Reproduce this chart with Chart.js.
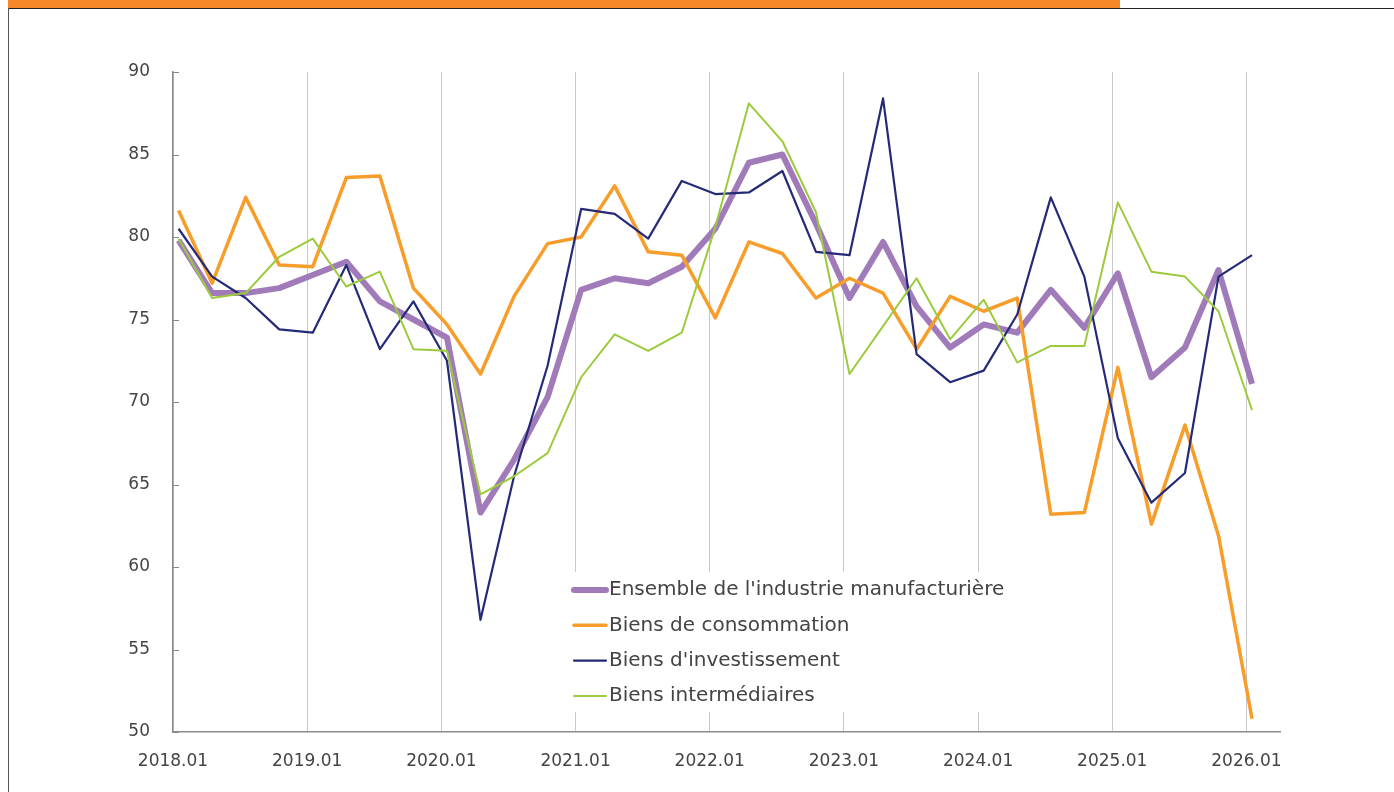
<!DOCTYPE html>
<html>
<head>
<meta charset="utf-8">
<script src="https://cdn.jsdelivr.net/npm/chart.js@4.4.1/dist/chart.umd.min.js"></script>
<style>
  html, body { margin: 0; padding: 0; background: #fff; }
  #wrap { position: relative; width: 1394px; height: 792px; overflow: hidden; }
  #topbar { position: absolute; left: 8px; top: 0; width: 1112px; height: 8px; background: #F7882A; }
  #topline { position: absolute; left: 8px; top: 8px; width: 1386px; height: 1px; background: #222; }
  #leftline { position: absolute; left: 8px; top: 8px; width: 1px; height: 784px; background: #555; }
  canvas { position: absolute; left: 0; top: 0; }
</style>
</head>
<body>
<div id="wrap">
  <div id="topbar"></div>
  <div id="topline"></div>
  <div id="leftline"></div>
  <canvas id="c" width="1394" height="792"></canvas>
</div>
<script>
const periods = [
  '2018.01','2018.04','2018.07','2018.10',
  '2019.01','2019.04','2019.07','2019.10',
  '2020.01','2020.04','2020.07','2020.10',
  '2021.01','2021.04','2021.07','2021.10',
  '2022.01','2022.04','2022.07','2022.10',
  '2023.01','2023.04','2023.07','2023.10',
  '2024.01','2024.04','2024.07','2024.10',
  '2025.01','2025.04','2025.07','2025.10',
  '2026.01'
];
const ensemble = [79.8,76.6,76.6,76.9,77.7,78.5,76.1,75.0,73.9,63.3,66.5,70.3,76.8,77.5,77.2,78.2,80.5,84.5,85.0,80.8,76.3,79.7,75.8,73.3,74.7,74.2,76.8,74.5,77.8,71.5,73.3,78.0,71.1];
const consommation = [81.6,77.2,82.4,78.3,78.2,83.6,83.7,76.9,74.7,71.7,76.4,79.6,80.0,83.1,79.1,78.9,75.1,79.7,79.0,76.3,77.5,76.6,73.2,76.4,75.5,76.3,63.2,63.3,72.1,62.6,68.6,61.9,50.8];
const investissement = [80.5,77.6,76.3,74.4,74.2,78.3,73.2,76.1,72.5,56.8,65.5,72.2,81.7,81.4,79.9,83.4,82.6,82.7,84.0,79.1,78.9,88.4,72.9,71.2,71.9,75.3,82.4,77.6,67.8,63.9,65.7,77.6,78.9];
const intermediaires = [79.9,76.3,76.6,78.8,79.9,77.0,77.9,73.2,73.1,64.4,65.5,66.9,71.5,74.1,73.1,74.2,80.6,88.1,85.8,81.5,71.7,74.6,77.5,73.8,76.2,72.4,73.4,73.4,82.1,77.9,77.6,75.5,69.5];
const seriesNames = ["Ensemble de l'industrie manufacturière","Biens de consommation","Biens d'investissement","Biens intermédiaires"];
const yTicks = [50,55,60,65,70,75,80,85,90];

// month index since 2018.01, point placed mid-month
function toX(p) {
  const [y, m] = p.split('.').map(Number);
  return (y - 2018) * 12 + (m - 1) + 0.5;
}
function pts(arr) { return arr.map((v, i) => ({ x: toX(periods[i]), y: v })); }

const FONT = "'DejaVu Sans', sans-serif";
const TXT = '#444444';

const styles = [
  { color: '#A17BB9', width: 6 },
  { color: '#F89D2A', width: 3.5 },
  { color: '#252A78', width: 2.2 },
  { color: '#9BCB3C', width: 2 }
];
const allSeries = [ensemble, consommation, investissement, intermediaires];

const datasets = allSeries.map((s, i) => ({
  label: seriesNames[i],
  data: pts(s),
  borderColor: styles[i].color,
  backgroundColor: styles[i].color,
  borderWidth: styles[i].width,
  pointRadius: 0,
  tension: 0,
  fill: false,
  borderJoinStyle: 'round',
  order: 3 - i
}));

const innerTicks = {
  id: 'innerTicks',
  afterDraw(chart) {
    const ctx = chart.ctx, y = chart.scales.y, x = chart.scales.x;
    ctx.save();
    ctx.strokeStyle = '#888';
    ctx.lineWidth = 1;
    y.ticks.forEach(t => {
      const py = Math.round(y.getPixelForValue(t.value)) + 0.5;
      ctx.beginPath();
      ctx.moveTo(x.left, py);
      ctx.lineTo(x.left + 6, py);
      ctx.stroke();
    });
    ctx.restore();
  }
};

const boxLegend = {
  id: 'boxLegend',
  afterDatasetsDraw(chart) {
    const ctx = chart.ctx;
    ctx.save();
    ctx.fillStyle = '#fff';
    ctx.fillRect(566, 572, 452, 140);
    ctx.font = '20px ' + FONT;
    ctx.textBaseline = 'middle';
    ctx.fillStyle = TXT;
    chart.data.datasets.forEach((d, i) => {
      const cy = 590 + i * 35.3;
      ctx.strokeStyle = d.borderColor;
      ctx.lineWidth = d.borderWidth;
      ctx.lineCap = 'round';
      ctx.beginPath();
      ctx.moveTo(574, cy);
      ctx.lineTo(606, cy);
      ctx.stroke();
      ctx.fillText(d.label, 609, cy);
    });
    ctx.restore();
  }
};

new Chart(document.getElementById('c'), {
  type: 'line',
  data: { datasets },
  options: {
    responsive: false,
    animation: false,
    layout: { padding: { left: 0, top: 72, right: 114, bottom: 0 } },
    plugins: { legend: { display: false }, tooltip: { enabled: false } },
    scales: {
      x: {
        type: 'linear',
        min: 0,
        max: 99,
        afterFit(s) { s.height = 60; },
        afterBuildTicks(s) { s.ticks = periods.filter(p => p.endsWith('.01')).map(p => ({ value: toX(p) - 0.5 })); },
        ticks: {
          font: { family: FONT, size: 17 },
          color: TXT,
          padding: 19,
          maxRotation: 0,
          autoSkip: false,
          callback: (v) => (2018 + Math.round(v / 12)) + '.01'
        },
        grid: { color: '#c8c8c8', lineWidth: 1, drawTicks: false },
        border: { color: '#8c8c8c', width: 1.5 }
      },
      y: {
        min: 50,
        max: 90,
        afterFit(s) { s.width = 173; },
        afterBuildTicks(s) { s.ticks = yTicks.map(v => ({ value: v })); },
        ticks: {
          font: { family: FONT, size: 17 },
          color: TXT,
          padding: 23
        },
        grid: { display: false, drawTicks: false },
        border: { color: '#8c8c8c', width: 1.5 }
      }
    }
  },
  plugins: [innerTicks, boxLegend]
});
</script>
</body>
</html>
